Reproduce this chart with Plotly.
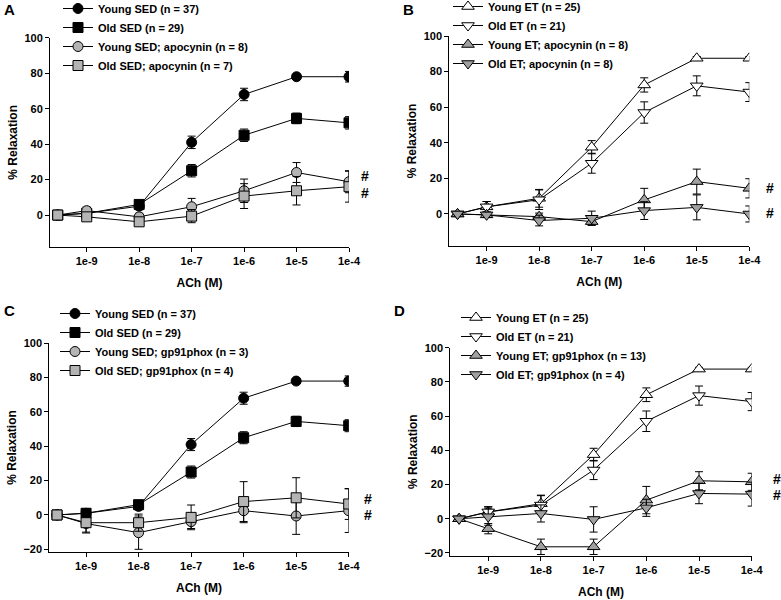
import plotly.graph_objects as go

# ---------------- data ----------------
ach_conc = [2.8e-10, 1e-9, 1e-8, 1e-7, 1e-6, 1e-5, 1e-4]
tick_vals = [1e-9, 1e-8, 1e-7, 1e-6, 1e-5, 1e-4]
tick_text = ["1e-9", "1e-8", "1e-7", "1e-6", "1e-5", "1e-4"]

young_sed = [0, 1, 5, 41, 68, 78, 78]
young_sed_err = [0, 2, 2, 3.5, 3.5, 1.5, 3]
old_sed = [0, 1, 6, 25, 45, 54.5, 52]
old_sed_err = [0, 2, 2, 3.5, 3.5, 3, 3.5]

young_sed_apo = [0, 2.5, -1, 4.7, 13.7, 24, 18.8]
young_sed_apo_err = [0, 2, 2, 4.7, 6.6, 5.6, 6.2]
old_sed_apo = [0, -1, -3.8, -0.6, 10.7, 13.7, 16]
old_sed_apo_err = [0, 2, 1.5, 3.7, 7, 8, 8.7]

young_et = [0, 4, 8.8, 37.5, 72.5, 87.5, 87.5]
young_et_err = [0, 3, 5, 3.7, 4, 1, 1]
old_et = [0, 4, 8, 28.5, 57, 72, 68.5]
old_et_err = [0, 3, 5.5, 5.6, 6, 5.6, 5.3]

young_et_apo = [0, -0.5, -1.5, -4.3, 7.9, 18.2, 14.4]
young_et_apo_err = [0, 1.5, 2, 2, 6.5, 7, 5.4]
old_et_apo = [0, -0.5, -3.7, -2.4, 1.9, 3.7, 0]
old_et_apo_err = [0, 1.5, 3, 4, 5, 7, 4.5]

young_sed_gp = [0, -5, -10.3, -3.9, 2.5, -0.6, 2.5]
young_sed_gp_err = [0, 5, 9.7, 4, 7, 10.7, 12.7]
old_sed_gp = [0, -4.5, -4.5, -1.4, 7.8, 10, 6.4]
old_sed_gp_err = [0, 6, 5, 7.2, 11.6, 11.7, 9]

young_et_gp = [0, -5.8, -16.4, -16.4, 10.9, 22.2, 21.6]
young_et_gp_err = [0, 3, 4.5, 4.5, 8, 5.3, 5]
old_et_gp = [0, 1.2, 3.1, -0.4, 6.4, 14.8, 14.4]
old_et_gp_err = [0, 5, 5, 7.4, 5, 6, 7]

# ---------------- styling ----------------
FONT = "Liberation Sans, Arial, sans-serif"
GRAY = "#b4b4b4"
GRAY_T = "#a0a0a0"

fig = go.Figure()


def add(name, y, err, symbol, fill, xa, ya, legend, size=10):
    fig.add_trace(go.Scatter(
        x=ach_conc, y=y, name=name, mode="lines+markers",
        xaxis=xa, yaxis=ya, legend=legend,
        line=dict(color="black", width=1),
        marker=dict(symbol=symbol, size=size, color=fill,
                    line=dict(color="black", width=1)),
        error_y=dict(type="data", array=err, visible=True,
                     color="black", thickness=1, width=4),
    ))


# Panel A
add("Young SED (n = 37)", young_sed, young_sed_err, "circle", "black", "x", "y", "legend")
add("Old SED (n = 29)", old_sed, old_sed_err, "square", "black", "x", "y", "legend")
add("Young SED; apocynin (n = 8)", young_sed_apo, young_sed_apo_err, "circle", GRAY, "x", "y", "legend")
add("Old SED; apocynin (n = 7)", old_sed_apo, old_sed_apo_err, "square", GRAY, "x", "y", "legend")
# Panel B
add("Young ET (n = 25)", young_et, young_et_err, "triangle-up", "white", "x2", "y2", "legend2", 11)
add("Old ET (n = 21)", old_et, old_et_err, "triangle-down", "white", "x2", "y2", "legend2", 11)
add("Young ET; apocynin (n = 8)", young_et_apo, young_et_apo_err, "triangle-up", GRAY_T, "x2", "y2", "legend2", 11)
add("Old ET; apocynin (n = 8)", old_et_apo, old_et_apo_err, "triangle-down", GRAY_T, "x2", "y2", "legend2", 11)
# Panel C
add("Young SED (n = 37)", young_sed, young_sed_err, "circle", "black", "x3", "y3", "legend3")
add("Old SED (n = 29)", old_sed, old_sed_err, "square", "black", "x3", "y3", "legend3")
add("Young SED; gp91phox (n = 3)", young_sed_gp, young_sed_gp_err, "circle", GRAY, "x3", "y3", "legend3")
add("Old SED; gp91phox (n = 4)", old_sed_gp, old_sed_gp_err, "square", GRAY, "x3", "y3", "legend3")
# Panel D
add("Young ET (n = 25)", young_et, young_et_err, "triangle-up", "white", "x4", "y4", "legend4", 11)
add("Old ET (n = 21)", old_et, old_et_err, "triangle-down", "white", "x4", "y4", "legend4", 11)
add("Young ET; gp91phox (n = 13)", young_et_gp, young_et_gp_err, "triangle-up", GRAY_T, "x4", "y4", "legend4", 11)
add("Old ET; gp91phox (n = 4)", old_et_gp, old_et_gp_err, "triangle-down", GRAY_T, "x4", "y4", "legend4", 11)

W, H = 781, 600


def px_x(p):
    return p / W


def px_y(p):
    return 1 - p / H


panels = {
    # name: (x_left_px, x_right_px, y_top_px, y_bottom_px, xmin_log, ymin)
    "1": (50, 349, 37.7, 247, -9.70, -18),
    "2": (449.3, 749.3, 36, 246, -9.71, -18),
    "3": (49.3, 348.7, 343.3, 551.7, -9.70, -21.4),
    "4": (450.3, 751.7, 347.7, 555.7, -9.72, -21.6),
}

axis_font = dict(family=FONT, size=11, color="black", weight="bold")
xtitle_font = dict(family=FONT, size=12, color="black", weight="bold")
ytitle_font = dict(family=FONT, size=12, color="black", weight="bold")

layout = {}
for key, (xl, xr, yt, yb, xmin, ymin) in panels.items():
    suf = "" if key == "1" else key
    layout["xaxis" + suf] = dict(
        type="log", domain=[px_x(xl), px_x(xr)], range=[xmin, -4],
        anchor="y" + suf, tickvals=tick_vals, ticktext=tick_text,
        ticks="outside", ticklen=4, tickcolor="black", tickwidth=1,
        showline=True, linecolor="black", linewidth=1, mirror=False,
        showgrid=False, zeroline=False, tickfont=axis_font, automargin=False,
        title=dict(text="ACh (M)", font=xtitle_font, standoff=12),
    )
    ytv = [0, 20, 40, 60, 80, 100] if ymin > -20 else [-20, 0, 20, 40, 60, 80, 100]
    layout["yaxis" + suf] = dict(
        domain=[px_y(yb), px_y(yt)], range=[ymin, 100],
        anchor="x" + suf, tickvals=ytv,
        ticks="outside", ticklen=4, tickcolor="black", tickwidth=1,
        showline=True, linecolor="black", linewidth=1,
        showgrid=False, zeroline=False, tickfont=axis_font, automargin=False,
        title=dict(text="% Relaxation", font=ytitle_font, standoff=4),
    )

legend_font = dict(family=FONT, size=11, color="black", weight="bold")
# legend top-left corners in pixels
legend_pos = {"legend": (58, -6), "legend2": (448, -8), "legend3": (55, 299), "legend4": (456, 303)}
for lg, (lx, ly) in legend_pos.items():
    layout[lg] = dict(
        x=px_x(lx), y=px_y(ly), xanchor="left", yanchor="top",
        bgcolor="rgba(0,0,0,0)", font=legend_font, itemwidth=30,
        tracegroupgap=0, traceorder="normal",
    )

annotations = []
for lbl, (x, y) in {"A": (9, 9), "B": (408, 9), "C": (9, 310), "D": (399, 310)}.items():
    annotations.append(dict(text=lbl, x=px_x(x), y=px_y(y), xref="paper", yref="paper",
                            xanchor="center", yanchor="middle", showarrow=False,
                            font=dict(family=FONT, size=15, color="black", weight="bold")))

hash_marks = {
    "": ([22, 12.5], 16),
    "2": ([14.6, 0.6], 21),
    "3": ([9.3, 0], 19),
    "4": ([23.2, 13.9], 25),
}
for suf, (ys, shift) in hash_marks.items():
    for yv in ys:
        annotations.append(dict(text="#", xref=("x" + suf + " domain"), yref="y" + suf,
                                x=1, y=yv, xshift=shift, xanchor="center", showarrow=False,
                                font=dict(family=FONT, size=14, color="black", weight="bold")))

fig.update_layout(
    width=W, height=H, margin=dict(l=0, r=0, t=0, b=0, autoexpand=False),
    paper_bgcolor="white", plot_bgcolor="white",
    font=dict(family=FONT, color="black"),
    annotations=annotations, showlegend=True,
    **layout,
)

fig.write_html("out.html", config={"displayModeBar": False},
               post_script="document.body.style.margin='0';")
